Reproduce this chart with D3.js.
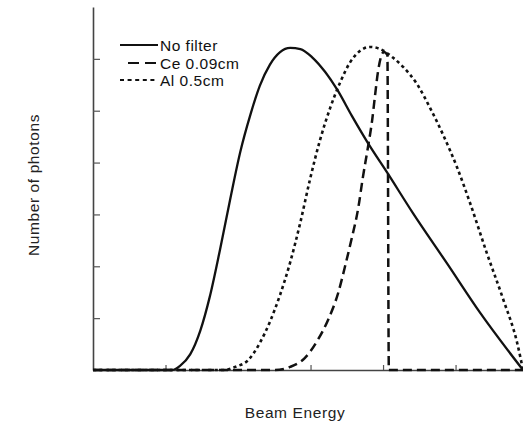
<!DOCTYPE html>
<html>
<head>
<meta charset="utf-8">
<script src="https://cdn.jsdelivr.net/npm/d3@7"></script>
<style>
  html, body { margin: 0; padding: 0; background: #fff; }
  svg { display: block; font-family: "Liberation Sans", Arial, sans-serif; }
</style>
</head>
<body>
<svg id="chart" width="523" height="424"></svg>
<script>
// ---- data (arbitrary energy / count units) ----
const noFilterEnergy = [0, 10.9, 12.0, 13.4, 14.8, 16.1, 17.5, 18.9, 20.3, 21.7, 23.0, 24.4, 25.8, 27.2, 28.6, 30.3, 32.0, 33.7, 35.7, 37.9, 40.6, 44.1, 48.8, 53.4, 59.3];
const noFilterCount  = [0, 0, 0.8, 3.0, 7.6, 14.1, 23.1, 32.8, 42.0, 49.2, 54.8, 58.9, 61.3, 62.1, 61.9, 60.2, 57.5, 54.0, 49.0, 43.8, 38.0, 30.3, 20.6, 11.0, 0];

const ceEnergy = [0, 25.1, 27.2, 29.2, 31.0, 32.4, 33.8, 34.9, 35.7, 36.6, 37.2, 37.9, 38.5, 38.9, 39.3, 39.7, 40.1, 40.6, 40.8, 59.3];
const ceCount  = [0, 0, 0.6, 2.3, 5.8, 9.6, 14.8, 20.8, 25.5, 31.4, 37.0, 42.8, 48.2, 53.0, 57.5, 60.3, 61.3, 60.7, 0, 0];

const alEnergy = [0, 18.2, 19.6, 21.4, 23.0, 24.4, 25.8, 27.2, 28.6, 29.9, 31.3, 32.7, 34.1, 35.4, 36.8, 38.2, 39.6, 41.4, 42.8, 44.7, 46.5, 48.3, 50.2, 52.0, 54.3, 56.6, 58.5, 59.3];
const alCount  = [0, 0, 0.6, 1.9, 5.2, 9.3, 14.5, 20.8, 28.5, 36.6, 44.3, 50.5, 55.5, 59.2, 61.5, 62.3, 61.9, 60.2, 58.4, 55.1, 50.5, 45.3, 39.1, 32.2, 22.6, 13.5, 5.2, 0];

const seriesNames = ["No filter", "Ce 0.09cm", "Al 0.5cm"];
const xTickValues = [10, 30, 40, 50];
const yTickValues = [10, 20, 30, 40, 50, 60];
const xTitle = "Beam Energy";
const yTitle = "Number of photons";

// ---- drawing ----
const svg = d3.select("#chart");
const x = d3.scaleLinear().domain([0, 59.3]).range([93, 523]);
const y = d3.scaleLinear().domain([0, 70]).range([370, 7]);

const series = [
  { name: seriesNames[0], e: noFilterEnergy, c: noFilterCount, dash: null, width: 2.3 },
  { name: seriesNames[1], e: ceEnergy, c: ceCount, dash: "9,5", width: 2.5 },
  { name: seriesNames[2], e: alEnergy, c: alCount, dash: "3.2,3.2", width: 2.6 }
];

// axes
const yAxis = d3.axisLeft(y).tickValues(yTickValues).tickFormat("").tickSizeInner(-7).tickSizeOuter(0);
const xAxis = d3.axisBottom(x).tickValues(xTickValues).tickFormat("").tickSizeInner(-5).tickSizeOuter(0);

const gy = svg.append("g").attr("transform", "translate(93,0)").call(yAxis);
const gx = svg.append("g").attr("transform", "translate(0,370)").call(xAxis);
[gy, gx].forEach(g => {
  g.select(".domain").attr("stroke", "#444").attr("stroke-width", 1.6);
  g.selectAll(".tick line").attr("stroke", "#555").attr("stroke-width", 1.2);
});

// lines
const line = d3.line().x(d => x(d[0])).y(d => y(d[1])).curve(d3.curveMonotoneX);
series.forEach(s => {
  const pts = s.e.map((v, i) => [v, s.c[i]]);
  svg.append("path")
    .datum(pts)
    .attr("d", line)
    .attr("fill", "none")
    .attr("stroke", "#111")
    .attr("stroke-width", s.width)
    .attr("stroke-dasharray", s.dash)
    .attr("stroke-linejoin", "round");
});

// legend
const legendRows = [
  { x1: 120, x2: 158, y: 45, dash: null, w: 2.2 },
  { x1: 128, x2: 158, y: 63, dash: "11,6", w: 2.2 },
  { x1: 120, x2: 158, y: 80, dash: "4,3.6", w: 2.0 }
];
legendRows.forEach((r, i) => {
  svg.append("line")
    .attr("x1", r.x1).attr("x2", r.x2).attr("y1", r.y).attr("y2", r.y)
    .attr("stroke", "#111").attr("stroke-width", r.w)
    .attr("stroke-dasharray", r.dash);
  svg.append("text")
    .attr("x", 160).attr("y", r.y + 5.5)
    .attr("font-size", 15.5)
    .attr("letter-spacing", 0.5)
    .attr("fill", "#111")
    .text(series[i].name);
});

// axis titles
svg.append("text")
  .attr("x", 295).attr("y", 418)
  .attr("text-anchor", "middle")
  .attr("font-size", 15.5)
  .attr("letter-spacing", 0.6)
  .attr("fill", "#222")
  .text(xTitle);

svg.append("text")
  .attr("transform", "translate(39,185) rotate(-90)")
  .attr("text-anchor", "middle")
  .attr("font-size", 15.5)
  .attr("letter-spacing", 0.6)
  .attr("fill", "#222")
  .text(yTitle);
</script>
</body>
</html>
